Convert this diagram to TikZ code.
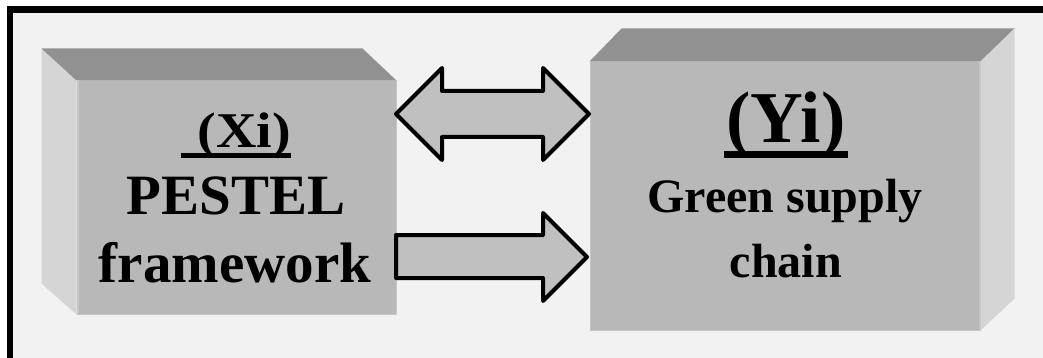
\documentclass[tikz,border=0pt]{standalone}
\usepackage{fontspec}
\setmainfont{Liberation Serif}
\begin{document}
\begin{tikzpicture}[x=1pt,y=-1pt,
  front/.style={fill=frontgray, draw=edgegray, line width=1pt, inner sep=0pt},
  topface/.style={fill=topgray},
  sideface/.style={fill=sidegray},
  blockarrow/.style={fill=arrowgray, draw=black, line width=4pt, line join=round},
  lbl/.style={inner sep=0pt, anchor=base, font=\bfseries},
  ul/.style={draw=black}]
\definecolor{frontgray}{HTML}{B8B8B8}
\definecolor{edgegray}{HTML}{C6C6C6}
\definecolor{topgray}{HTML}{919191}
\definecolor{sidegray}{HTML}{D5D5D5}
\definecolor{arrowgray}{HTML}{C0C0C0}
\definecolor{bggray}{HTML}{F2F2F2}
\useasboundingbox (0,0) rectangle (1043,358);
\fill[white] (0,0) rectangle (1043,358);
\fill[black] (7,6) rectangle (1043,358);
\fill[bggray] (13,13) rectangle (1043,358);
% left box
\node[front, minimum width=319pt, minimum height=233pt] (X) at (236.5,197.5) {};
\fill[sideface] (X.north west) -- ++(-35,-32) -- ([shift={(-35,-31)}]X.south west) -- (X.south west) -- cycle;
\fill[topface] (X.north west) -- ++(-35,-32) -- ([shift={(-34,-32)}]X.north east) -- (X.north east) -- cycle;
\draw[edgegray, line width=2pt] ([xshift=1pt]X.north west) -- ([xshift=1pt]X.south west);
% right box
\node[front, minimum width=390pt, minimum height=268pt] (Y) at (785,196) {};
\fill[topface] (Y.north west) -- ++(32,-33) -- ([shift={(34,-33)}]Y.north east) -- (Y.north east) -- cycle;
\fill[sideface] (Y.north east) -- ++(34,-33) -- ([shift={(34,-32)}]Y.south east) -- (Y.south east) -- cycle;
\draw[edgegray, line width=2pt] ([xshift=-1pt]Y.north east) -- ([xshift=-1pt]Y.south east);
% texts left
\node[lbl, font=\bfseries\fontsize{50}{50}\selectfont] (xi) at (244.5,148) {\scalebox{1.12}[1]{(Xi)}};
\draw[ul, line width=5pt] ([xshift=-17pt,yshift=-8pt]xi.base west) -- ([yshift=-8pt]xi.base east);
\node[lbl, font=\bfseries\fontsize{57}{57}\selectfont] (pestel) at (236,214) {PESTEL};
\node[lbl, font=\bfseries\fontsize{57}{57}\selectfont] (fw) at (235,282) {framework};
% texts right
\node[lbl, font=\bfseries\fontsize{73}{73}\selectfont] (yi) at (786,143) {(Yi)};
\draw[ul, line width=7pt] ([xshift=-2pt,yshift=-12pt]yi.base west) -- ([xshift=2pt,yshift=-12pt]yi.base east);
\node[lbl, font=\bfseries\fontsize{48}{48}\selectfont] (gs) at (785,212) {Green supply};
\node[lbl, font=\bfseries\fontsize{48}{48}\selectfont] (ch) at (786,277) {chain};
% arrows
\draw[blockarrow] (396,114) -- (442,68) -- (442,91) -- (543,91) -- (543,68) -- (589,114) -- (543,160) -- (543,137) -- (442,137) -- (442,160) -- cycle;
\draw[blockarrow] (396,235) -- (543,235) -- (543,213) -- (587,257) -- (543,301) -- (543,278) -- (396,278) -- cycle;
\end{tikzpicture}
\end{document}
